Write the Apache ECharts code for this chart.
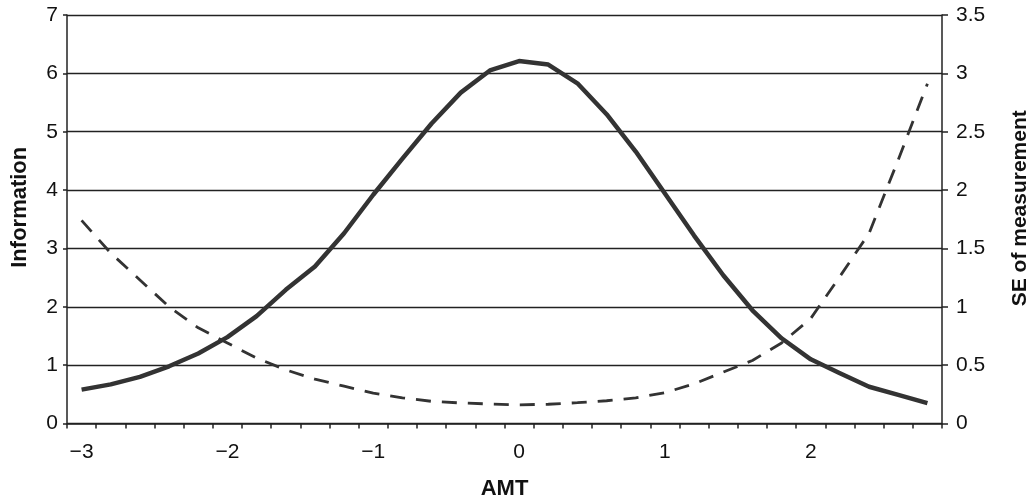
<!DOCTYPE html>
<html>
<head>
<meta charset="utf-8">
<script src="https://cdn.jsdelivr.net/npm/echarts@6/dist/echarts.min.js"></script>
<style>
  html, body { margin: 0; padding: 0; background: #fff; }
  #chart { width: 1031px; height: 498px; }
</style>
</head>
<body>
<div id="chart"></div>
<script>
// AMT 类目 (步长 0.2)
const amt = [-3, -2.8, -2.6, -2.4, -2.2, -2, -1.8, -1.6, -1.4, -1.2,
  -1, -0.8, -0.6, -0.4, -0.2, 0, 0.2, 0.4, 0.6, 0.8,
  1, 1.2, 1.4, 1.6, 1.8, 2, 2.2, 2.4, 2.6, 2.8]
// 信息量 (左轴)
const information = [0.58, 0.67, 0.80, 0.98, 1.20, 1.48, 1.84, 2.29, 2.69, 3.26,
  3.92, 4.54, 5.14, 5.67, 6.05, 6.21, 6.15, 5.83, 5.30, 4.66,
  3.94, 3.22, 2.54, 1.94, 1.46, 1.10, 0.86, 0.63, 0.49, 0.35]
// 测量标准误 (右轴)
const seMeasurement = [1.74, 1.46, 1.23, 1.00, 0.82, 0.69, 0.56, 0.46, 0.38, 0.32,
  0.26, 0.22, 0.19, 0.176, 0.167, 0.16, 0.165, 0.178, 0.195, 0.22,
  0.264, 0.34, 0.44, 0.54, 0.69, 0.90, 1.26, 1.63, 2.26, 2.91]

const font = 'Liberation Sans, Arial, Helvetica, sans-serif'
const ink = '#222'

const myChart = echarts.init(document.querySelector('#chart'))
const option = {
  animation: false,
  grid: {
    left: 67,
    right: 89,
    top: 15,
    bottom: 74.5,
    // 不让 v6 自动收缩网格
    outerBoundsMode: 'none'
  },
  xAxis: {
    type: 'category',
    data: amt,
    boundaryGap: true,
    name: 'AMT',
    nameLocation: 'middle',
    nameGap: 54,
    nameTextStyle: { fontFamily: font, fontSize: 22, fontWeight: 'bold', color: '#111' },
    axisLine: { lineStyle: { color: ink, width: 1.5 } },
    axisTick: { show: true, interval: 0, length: 5, lineStyle: { color: ink, width: 1.5 } },
    axisLabel: {
      interval: 4,
      margin: 18,
      fontFamily: font,
      fontSize: 21,
      color: '#111',
      formatter: v => String(v).replace('-', '\u2212')
    },
    splitLine: { show: false }
  },
  yAxis: [
    {
      type: 'value',
      min: 0,
      max: 7,
      interval: 1,
      name: 'Information',
      nameLocation: 'middle',
      nameGap: 36,
      // 标题稍微上移
      nameTextStyle: { fontFamily: font, fontSize: 22, fontWeight: 'bold', color: '#111', padding: [0, 0, 0, 24] },
      axisLine: { show: true, lineStyle: { color: ink, width: 1.5 } },
      axisTick: { show: true, length: 4, lineStyle: { color: ink, width: 1.5 } },
      axisLabel: { margin: 9, fontFamily: font, fontSize: 21, color: '#111' },
      splitLine: { show: true, lineStyle: { color: ink, width: 1.4 } }
    },
    {
      type: 'value',
      min: 0,
      max: 3.5,
      interval: 0.5,
      name: 'SE of measurement',
      nameLocation: 'middle',
      nameGap: 68,
      nameRotate: 90,
      nameTextStyle: { fontFamily: font, fontSize: 21, fontWeight: 'bold', color: '#111', padding: [0, 0, 0, 22] },
      axisLine: { show: true, lineStyle: { color: ink, width: 1.5 } },
      axisTick: { show: true, length: 6, lineStyle: { color: ink, width: 1.5 } },
      axisLabel: { margin: 14, fontFamily: font, fontSize: 21, color: '#111' },
      splitLine: { show: false }
    }
  ],
  series: [
    {
      name: 'Information',
      type: 'line',
      yAxisIndex: 0,
      data: information,
      symbol: 'none',
      lineStyle: { color: '#333', width: 4.5, join: 'round' }
    },
    {
      name: 'SE of measurement',
      type: 'line',
      yAxisIndex: 1,
      data: seMeasurement,
      symbol: 'none',
      lineStyle: { color: '#333', width: 2.8, type: [15, 11] }
    }
  ]
}
myChart.setOption(option)
</script>
</body>
</html>
